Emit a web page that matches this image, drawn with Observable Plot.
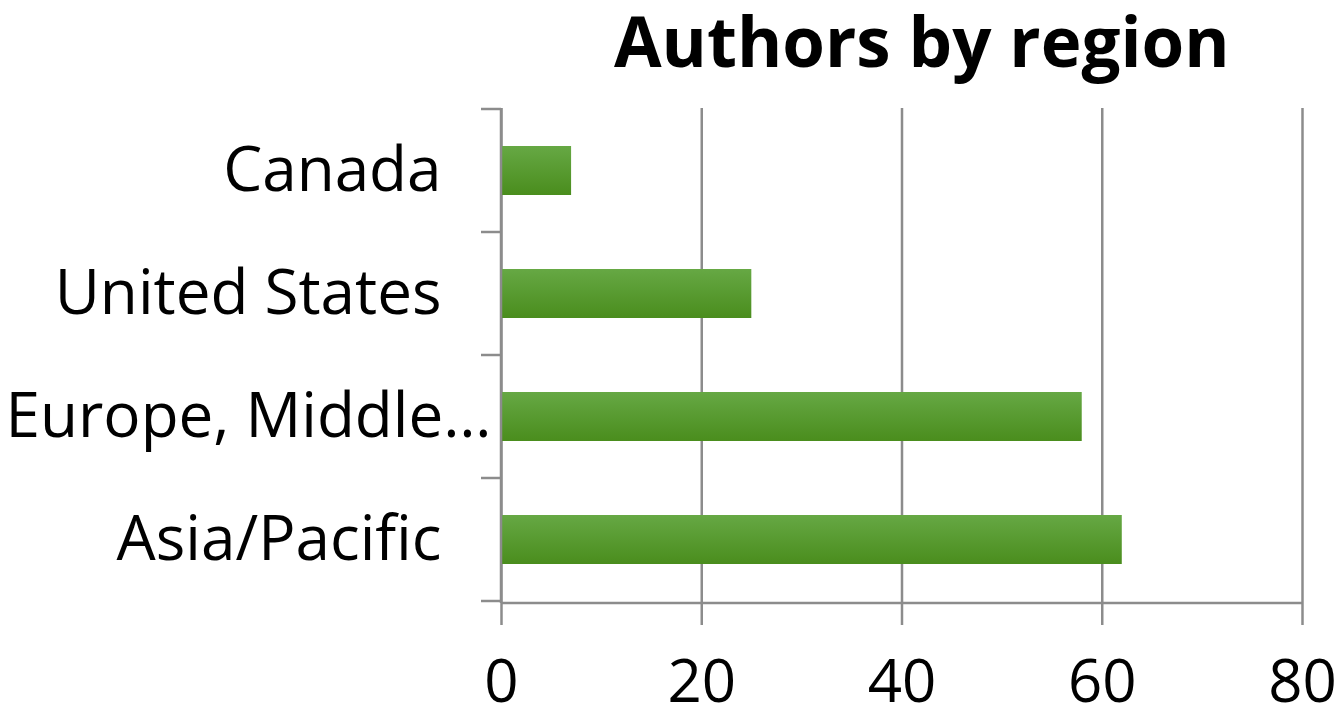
<!DOCTYPE html>
<html>
<head>
<meta charset="utf-8">
<script src="https://cdn.jsdelivr.net/npm/d3@7"></script>
<script src="https://cdn.jsdelivr.net/npm/@observablehq/plot@0.6"></script>
<style>
  html, body { margin: 0; padding: 0; background: #fff; }
  #title { height: 100px; font-family: "Open Sans", sans-serif; font-weight: 700; font-size: 69px;
           line-height: 80px; color: #000; padding-left: 614px; white-space: nowrap; }
  #chart svg { display: block; }
</style>
</head>
<body>
<div id="title">Authors by region</div>
<div id="chart"></div>
<script>
const categories = ["Canada", "United States", "Europe, Middle…", "Asia/Pacific"];
const authors = [7, 25, 58, 62];
const xTicks = [0, 20, 40, 60, 80];

const data = categories.map((c, i) => ({region: c, value: authors[i]}));
const gray = "#8c8c8c";
const font = "Open Sans, sans-serif";
const truncated = categories.filter(c => c.endsWith("…"));
const full = categories.filter(c => !c.endsWith("…"));

// Axis lines and category-boundary tick marks (Excel style), from the scales
function axesFrame(index, scales, values, dims) {
  const y = scales.y, x = scales.x;
  const g = d3.create("svg:g");
  const bw = typeof y.bandwidth === "function" ? y.bandwidth() : y.bandwidth;
  const starts = categories.map(c => y(c));
  const step = starts.length > 1 ? starts[1] - starts[0] : bw / 0.4;
  const gap = (step - bw) / 2;
  const bounds = starts.map(s => s - gap);
  bounds.push(starts[starts.length - 1] + bw + gap);
  const x0 = x(0);
  const top = dims.marginTop, bottom = dims.height - dims.marginBottom;
  g.append("line").attr("x1", x0).attr("x2", x0).attr("y1", top).attr("y2", bottom)
    .attr("stroke", gray).attr("stroke-width", 2.5);
  g.append("line").attr("x1", x0).attr("x2", x(80)).attr("y1", bottom).attr("y2", bottom)
    .attr("stroke", gray).attr("stroke-width", 2.5);
  for (const b of bounds) {
    g.append("line").attr("x1", x0 - 20).attr("x2", x0).attr("y1", b).attr("y2", b)
      .attr("stroke", gray).attr("stroke-width", 2.5);
  }
  return g.node();
}

const chart = Plot.plot({
  width: 1342,
  height: 611,
  marginTop: 8,
  marginBottom: 108,
  marginLeft: 501,
  marginRight: 40,
  style: {fontFamily: font, background: "#fff", color: "#000"},
  x: {domain: [0, 80], ticks: xTicks, label: null},
  y: {domain: categories, paddingInner: 0.6, paddingOuter: 0.3, label: null},
  marks: [
    Plot.gridX(xTicks, {stroke: gray, strokeOpacity: 1, strokeWidth: 2.5}),
    Plot.axisX(xTicks, {tickSize: 22, tickPadding: 34, fontSize: 60, stroke: gray, strokeWidth: 2.5,
      tickFormat: d => d, color: "#000", label: null}),
    Plot.axisY(full, {tickSize: 0, tickPadding: 60, fontSize: 62, color: "#000", fill: "#000", label: null}),
    Plot.axisY(truncated, {tickSize: 0, tickPadding: 10, fontSize: 62, color: "#000", fill: "#000", label: null}),
    Plot.barX(data, {x: "value", y: "region", fill: "url(#barGrad)",
      style: {filter: "drop-shadow(3px 4px 3px rgba(0,0,0,0.35))"}}),
    axesFrame
  ]
});

// gradient definition for the bars
const svg = d3.select(chart);
const defs = svg.insert("defs", ":first-child");
const grad = defs.append("linearGradient").attr("id", "barGrad")
  .attr("x1", 0).attr("y1", 0).attr("x2", 0).attr("y2", 1);
grad.append("stop").attr("offset", "0%").attr("stop-color", "#66a844");
grad.append("stop").attr("offset", "100%").attr("stop-color", "#4a8d1d");

document.getElementById("chart").appendChild(chart);
</script>
</body>
</html>
